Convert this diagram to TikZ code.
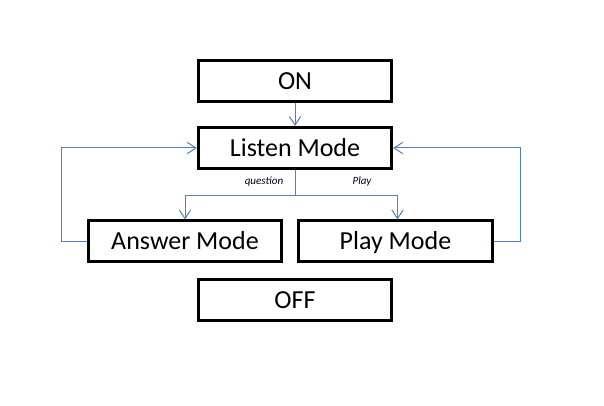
\documentclass[tikz,border=0pt]{standalone}
\usepackage{fontspec}
\setmainfont{Carlito}
\usetikzlibrary{arrows.meta, positioning}

\begin{document}
\begin{tikzpicture}[
    x=0.75pt, y=-0.75pt,
    box/.style={rectangle, draw, line width=2.25pt, minimum width=145pt,
                minimum height=30.75pt, inner sep=0pt, text height=12.5pt, text depth=0pt,
                font=\fontsize{19.5}{22}\selectfont},
    arr/.style={-{Straight Barb[length=6.5pt, width=8.5pt]}, line width=0.75pt, color=linkblue},
    lnk/.style={line width=0.75pt, color=linkblue},
    lbl/.style={font=\fontsize{8.3}{9}\selectfont\itshape, text=black!85!blue, inner sep=0pt},
]
\definecolor{linkblue}{HTML}{4F81BD}
\useasboundingbox (0,0) rectangle (604,406);

\node[box] (on)     at (295,81)    {ON};
\node[box] (listen) at (295,148)   {Listen Mode};
\node[box] (answer) at (185,241.5) {Answer Mode};
\node[box] (play)   at (395.5,241.5) {Play Mode};
\node[box] (off)    at (295,300.5) {OFF};

\draw[arr] (on) -- (listen);
\draw[lnk] (listen.south) -- ++(0,26) coordinate (split);
\draw[arr] (split) -| (answer.north);
\draw[arr] (split) -| ([xshift=1.5]play.north);
\node[lbl] (qlabel) at (264,182) {question};
\node[lbl] (plabel) at (362,182) {Play};

% back to listening
\draw[arr] (answer.west) -- ++(-25,0) |- (listen.west);
\draw[arr] (play.east) -- ++(27,0) |- (listen.east);
\end{tikzpicture}
\end{document}
